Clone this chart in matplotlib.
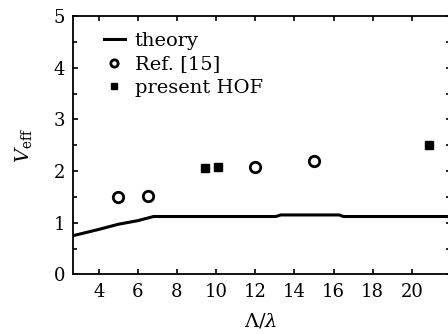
import matplotlib
matplotlib.use("Agg")
import matplotlib.pyplot as plt
from matplotlib.ticker import MultipleLocator

theory_x = [2.7, 4.0, 5.0, 6.0, 6.8, 13.05, 13.3, 16.3, 16.5, 22.0]
theory_y = [0.75, 0.87, 0.97, 1.04, 1.12, 1.12, 1.15, 1.15, 1.12, 1.12]
ref_x = [5.0, 6.5, 12.0, 15.0]
ref_y = [1.5, 1.52, 2.07, 2.2]
hof_x = [9.45, 10.1, 20.9]
hof_y = [2.05, 2.07, 2.5]
xticks = [4, 6, 8, 10, 12, 14, 16, 18, 20]
yticks = [0, 1, 2, 3, 4, 5]

plt.rcParams['font.family'] = ['DejaVu Serif']
plt.rcParams['mathtext.fontset'] = 'dejavuserif'

fig = plt.figure(figsize=(4.48, 3.35), dpi=100)
ax = fig.add_axes([0.1636, 0.181, 0.8364, 0.771])

ax.plot(theory_x, theory_y, color='black', lw=2.2, label='theory')
ax.plot(ref_x, ref_y, 'o', mfc='white', mec='black', mew=2.0, ms=7.5, label='Ref. [15]')
ax.plot(hof_x, hof_y, 's', color='black', ms=6, label='present HOF')

ax.set_xlim(2.7, 21.85)
ax.set_ylim(0, 5)
ax.set_xticks(xticks)
ax.set_yticks(yticks)
ax.yaxis.set_minor_locator(MultipleLocator(0.5))
ax.tick_params(axis='both', which='both', direction='in', top=True, right=True,
               labelsize=13, length=3.5, width=1.2, pad=6)
ax.tick_params(axis='both', which='minor', length=3)
ax.tick_params(axis='y', which='both', right=False)
for s in ax.spines.values():
    s.set_linewidth(1.3)
ax.spines['right'].set_visible(False)

# short right-edge ticks
sec = ax.secondary_yaxis('right')
sec.set_yticks(yticks)
sec.yaxis.set_minor_locator(MultipleLocator(0.5))
sec.tick_params(axis='y', which='both', direction='in', length=1.8, width=1.2,
                labelright=False)
sec.spines['right'].set_visible(False)

ax.set_xlabel(r'$\Lambda/\lambda$', fontsize=14, labelpad=8)
ax.set_ylabel(r'$V_{\rm eff}$', fontsize=14, labelpad=14)

leg = ax.legend(loc='upper left', bbox_to_anchor=(0.06, 0.97), frameon=False,
                fontsize=14, handlelength=1.1, handletextpad=0.5,
                labelspacing=0.3, borderaxespad=0, markerscale=0.7)

fig.savefig('out.png', dpi=100)
